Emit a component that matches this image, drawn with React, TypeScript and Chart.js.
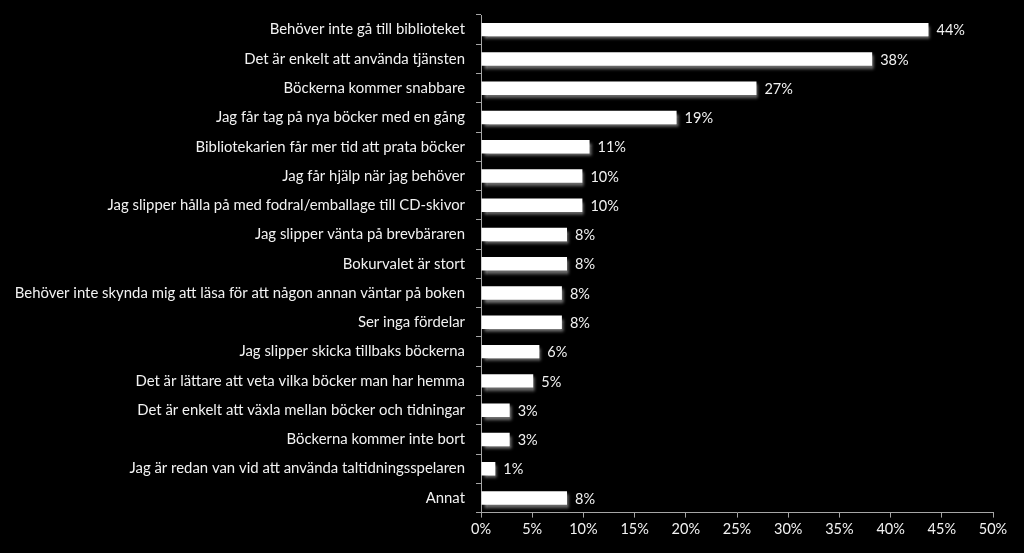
import React, { useEffect, useRef } from "react";
import { Chart, registerables } from "chart.js";

Chart.register(...registerables);

const categories = [
  "Behöver inte gå till biblioteket",
  "Det är enkelt att använda tjänsten",
  "Böckerna kommer snabbare",
  "Jag får tag på nya böcker med en gång",
  "Bibliotekarien får mer tid att prata böcker",
  "Jag får hjälp när jag behöver",
  "Jag slipper hålla på med fodral/emballage till CD-skivor",
  "Jag slipper vänta på brevbäraren",
  "Bokurvalet är stort",
  "Behöver inte skynda mig att läsa för att någon annan väntar på boken",
  "Ser inga fördelar",
  "Jag slipper skicka tillbaks böckerna",
  "Det är lättare att veta vilka böcker man har hemma",
  "Det är enkelt att växla mellan böcker och tidningar",
  "Böckerna kommer inte bort",
  "Jag är redan van vid att använda taltidningsspelaren",
  "Annat",
];

const values = [43.7, 38.2, 26.9, 19.1, 10.6, 9.9, 9.9, 8.4, 8.4, 7.9, 7.9, 5.7, 5.1, 2.8, 2.8, 1.4, 8.4];

const xTicks = [0, 5, 10, 15, 20, 25, 30, 35, 40, 45, 50];

const FONT = "Lato";

const shadowPlugin = {
  id: "barShadow",
  beforeDatasetsDraw(chart: any) {
    const ctx = chart.ctx;
    ctx.save();
    ctx.shadowColor = "rgba(140,140,140,0.85)";
    ctx.shadowBlur = 3;
    ctx.shadowOffsetX = 2;
    ctx.shadowOffsetY = 3;
  },
  afterDatasetsDraw(chart: any) {
    chart.ctx.restore();
  },
};

const labelPlugin = {
  id: "valueLabels",
  afterDatasetsDraw(chart: any) {
    const ctx = chart.ctx;
    const meta = chart.getDatasetMeta(0);
    ctx.save();
    ctx.fillStyle = "#f2f2f2";
    ctx.font = `14.5px ${FONT}`;
    ctx.textAlign = "left";
    ctx.textBaseline = "middle";
    meta.data.forEach((bar: any, i: number) => {
      ctx.fillText(Math.round(values[i]) + "%", bar.x + 8, bar.y + 1);
    });
    ctx.restore();
  },
};

export default function App() {
  const ref = useRef<HTMLCanvasElement>(null);
  useEffect(() => {
    document.body.style.margin = "0";
    document.body.style.background = "#000";
    const chart = new Chart(ref.current!, {
      type: "bar",
      data: {
        labels: categories,
        datasets: [
          {
            data: values,
            backgroundColor: "#ffffff",
            borderWidth: 0,
            barPercentage: 0.46,
            categoryPercentage: 1,
          },
        ],
      },
      options: {
        indexAxis: "y",
        animation: false,
        responsive: false,
        maintainAspectRatio: false,
        layout: { padding: { left: 8, right: 31, top: 15, bottom: 12 } },
        plugins: { legend: { display: false }, tooltip: { enabled: false } },
        scales: {
          x: {
            min: 0,
            max: 50,
            afterBuildTicks(scale: any) {
              scale.ticks = xTicks.map((v) => ({ value: v }));
            },
            grid: { drawOnChartArea: false, color: "#a6a6a6", tickLength: 5, tickColor: "#a6a6a6" },
            border: { color: "#a6a6a6" },
            ticks: {
              color: "#f2f2f2",
              font: { family: FONT, size: 14.5 },
              padding: 3,
              maxRotation: 0,
              callback: (v: any) => v + "%",
            },
          },
          y: {
            afterFit(scale: any) {
              scale.width = 473;
              scale.paddingTop = 0;
              scale.paddingBottom = 0;
            },
            grid: { drawOnChartArea: false, color: "#a6a6a6", tickLength: 5, tickColor: "#a6a6a6", offset: true },
            border: { color: "#a6a6a6" },
            ticks: {
              color: "#f2f2f2",
              font: { family: FONT, size: 14.9 },
              padding: 11,
              autoSkip: false,
            },
          },
        },
      },
      plugins: [shadowPlugin, labelPlugin],
    });
    return () => chart.destroy();
  }, []);
  return (
    <div style={{ width: 1024, height: 553, background: "#000" }}>
      <canvas ref={ref} width={1024} height={553} style={{ display: "block" }} />
    </div>
  );
}
